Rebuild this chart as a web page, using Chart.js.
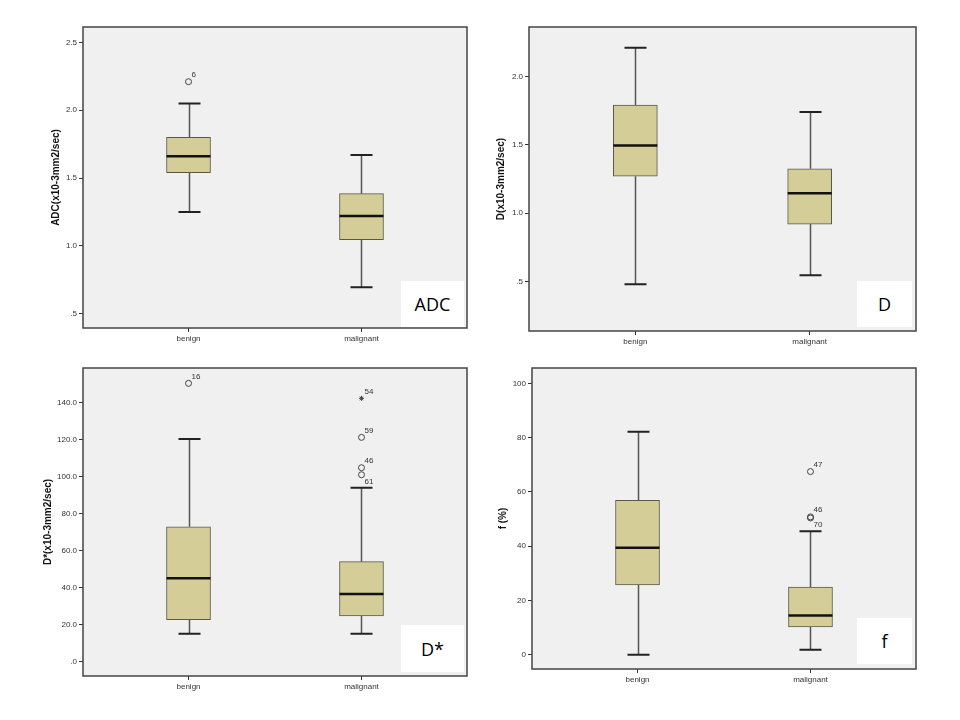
<!DOCTYPE html>
<html><head><meta charset="utf-8">
<script src="https://cdn.jsdelivr.net/npm/chart.js@4.4.1/dist/chart.umd.min.js"></script>
<style>
html,body{margin:0;padding:0;background:#fff;width:960px;height:720px;overflow:hidden;}
canvas{position:absolute;}
.tag{position:absolute;background:#fff;font-family:'Open Sans','Noto Sans',sans-serif;font-size:18px;color:#000;display:flex;align-items:center;justify-content:center;}
</style></head><body>
<canvas id="c1" width="429" height="338" style="left:48px;top:15px;width:429px;height:338px"></canvas>
<canvas id="c2" width="433" height="341" style="left:493px;top:15px;width:433px;height:341px"></canvas>
<canvas id="c3" width="437" height="345" style="left:40px;top:356px;width:437px;height:345px"></canvas>
<canvas id="c4" width="431" height="338" style="left:495px;top:356px;width:431px;height:338px"></canvas>
<div class="tag" style="left:401px;top:281px;width:63px;height:46px">ADC</div>
<div class="tag" style="left:857px;top:281px;width:55px;height:46px">D</div>
<div class="tag" style="left:401px;top:625px;width:63px;height:47px">D*</div>
<div class="tag" style="left:857px;top:618px;width:55px;height:46px">f</div>
<script>
// ---------- data ----------
const categories = ['benign', 'malignant'];

// ADC
const adcLow    = [1.25, 0.695];
const adcQ1     = [1.54, 1.045];
const adcMedian = [1.66, 1.22];
const adcQ3     = [1.80, 1.385];
const adcHigh   = [2.05, 1.67];
const adcOutlierGroup = [0];
const adcOutlierValue = [2.21];
const adcOutlierCase  = ['6'];
const adcTicks      = [0.5, 1.0, 1.5, 2.0, 2.5];
const adcTickLabels = ['.5', '1.0', '1.5', '2.0', '2.5'];

// D
const dLow    = [0.48, 0.545];
const dQ1     = [1.27, 0.92];
const dMedian = [1.495, 1.145];
const dQ3     = [1.79, 1.325];
const dHigh   = [2.21, 1.74];
const dOutlierGroup = [];
const dOutlierValue = [];
const dOutlierCase  = [];
const dTicks      = [0.5, 1.0, 1.5, 2.0];
const dTickLabels = ['.5', '1.0', '1.5', '2.0'];

// D*
const dsLow    = [14.9, 14.9];
const dsQ1     = [22.5, 24.6];
const dsMedian = [44.9, 36.4];
const dsQ3     = [72.8, 53.9];
const dsHigh   = [120.2, 93.9];
const dsOutlierGroup = [0, 1, 1, 1, 1];
const dsOutlierValue = [150.3, 142.2, 121.1, 104.7, 100.9];
const dsOutlierCase  = ['16', '54', '59', '46', '61'];
const dsExtremeCases = ['54'];
const dsTicks      = [0, 20, 40, 60, 80, 100, 120, 140];
const dsTickLabels = ['.0', '20.0', '40.0', '60.0', '80.0', '100.0', '120.0', '140.0'];

// f
const fLow    = [0, 1.8];
const fQ1     = [25.7, 10.2];
const fMedian = [39.4, 14.4];
const fQ3     = [56.9, 24.9];
const fHigh   = [82.2, 45.5];
const fOutlierGroup = [1, 1, 1];
const fOutlierValue = [67.5, 50.8, 50.4];
const fOutlierCase  = ['47', '46', '70'];
const fTicks      = [0, 20, 40, 60, 80, 100];
const fTickLabels = ['0', '20', '40', '60', '80', '100'];

// label placement (style)
const labelBelowCases = ['61', '70'];

// ---------- drawing ----------
const BOX_W = 44, CAP_HALF = 11;

const boxPlugin = {
  id: 'boxplot',
  beforeDraw(chart) {
    const {ctx, chartArea: a} = chart;
    ctx.save();
    ctx.fillStyle = '#f0f0f0';
    ctx.fillRect(a.left, a.top, a.right - a.left, a.bottom - a.top);
    ctx.restore();
  },
  beforeDatasetsDraw(chart, args, o) {
    const {ctx} = chart; const x = chart.scales.x, y = chart.scales.y;
    ctx.save();
    o.low.forEach((v, i) => {
      const px = Math.round(x.getPixelForValue(i)) + 0.5;
      ctx.strokeStyle = '#555'; ctx.lineWidth = 1.5;
      ctx.beginPath();
      ctx.moveTo(px, y.getPixelForValue(o.low[i])); ctx.lineTo(px, y.getPixelForValue(o.q1[i]));
      ctx.moveTo(px, y.getPixelForValue(o.q3[i])); ctx.lineTo(px, y.getPixelForValue(o.high[i]));
      ctx.stroke();
      ctx.strokeStyle = '#222'; ctx.lineWidth = 2;
      ctx.beginPath();
      const yl = y.getPixelForValue(o.low[i]), yh = y.getPixelForValue(o.high[i]);
      ctx.moveTo(px - CAP_HALF, yl); ctx.lineTo(px + CAP_HALF, yl);
      ctx.moveTo(px - CAP_HALF, yh); ctx.lineTo(px + CAP_HALF, yh);
      ctx.stroke();
    });
    ctx.restore();
  },
  afterDatasetsDraw(chart, args, o) {
    const {ctx, chartArea: a} = chart; const x = chart.scales.x, y = chart.scales.y;
    ctx.save();
    ctx.strokeStyle = '#111'; ctx.lineWidth = 2.5;
    o.median.forEach((v, i) => {
      const px = x.getPixelForValue(i), py = y.getPixelForValue(v);
      ctx.beginPath(); ctx.moveTo(px - BOX_W / 2, py); ctx.lineTo(px + BOX_W / 2, py); ctx.stroke();
    });
    ctx.fillStyle = '#333'; ctx.font = '8px Arial, "Liberation Sans", sans-serif';
    ctx.textAlign = 'left'; ctx.textBaseline = 'middle';
    o.oGroup.forEach((g, i) => {
      const px = x.getPixelForValue(g), py = y.getPixelForValue(o.oValue[i]);
      const below = labelBelowCases.includes(o.oCase[i]);
      ctx.fillText(o.oCase[i], px + 3, below ? py + 7 : py - 7);
    });
    ctx.strokeStyle = '#444'; ctx.lineWidth = 1.5;
    ctx.strokeRect(a.left, a.top, a.right - a.left, a.bottom - a.top);
    ctx.restore();
  }
};

function makePanel(id, p) {
  const tickFont = {size: 8, family: 'Arial, "Liberation Sans", sans-serif'};
  const ext = p.extreme || [];
  new Chart(document.getElementById(id), {
    type: 'bar',
    data: {
      datasets: [
        {
          type: 'bar',
          data: categories.map((c, i) => ({x: i, y: [p.q1[i], p.q3[i]]})),
          backgroundColor: '#d4cd97', borderColor: '#5a5848', borderWidth: 1,
          borderSkipped: false, barThickness: BOX_W, order: 2
        },
        {
          type: 'scatter',
          data: p.oGroup.map((g, i) => ({x: g, y: p.oValue[i]})),
          pointStyle: p.oCase.map(c => ext.includes(c) ? 'star' : 'circle'),
          pointRadius: p.oCase.map(c => ext.includes(c) ? 2.5 : 3),
          borderColor: '#444', backgroundColor: 'rgba(0,0,0,0)', borderWidth: 1, order: 1
        }
      ]
    },
    options: {
      responsive: false, animation: false,
      layout: {padding: {top: 12, right: 10, left: 0, bottom: 0}},
      plugins: {
        legend: {display: false}, tooltip: {enabled: false},
        boxplot: {low: p.low, q1: p.q1, median: p.median, q3: p.q3, high: p.high,
                  oGroup: p.oGroup, oValue: p.oValue, oCase: p.oCase}
      },
      scales: {
        x: {
          type: 'linear', min: -0.61, max: 1.61, offset: false,
          afterBuildTicks: s => { s.ticks = categories.map((c, i) => ({value: i})); },
          ticks: {callback: (v, i) => categories[i], font: tickFont, color: '#333', padding: 2, autoSkip: false, maxRotation: 0},
          grid: {offset: false, drawOnChartArea: false, drawTicks: true, tickLength: 4, color: '#333', lineWidth: 1},
          border: {display: false},
          afterFit: s => { s.height = 25; }
        },
        y: {
          type: 'linear', min: p.ymin, max: p.ymax,
          afterBuildTicks: s => { s.ticks = p.ticks.map(v => ({value: v})); },
          ticks: {callback: (v, i) => p.tickLabels[i], font: tickFont, color: '#333', padding: 2, autoSkip: false},
          grid: {offset: false, drawOnChartArea: false, drawTicks: true, tickLength: 4, color: '#333', lineWidth: 1},
          border: {display: false},
          title: {display: true, text: p.title, color: '#111', padding: {top: 2, bottom: 0},
                  font: {size: 10, weight: 'bold', family: 'Arial, "Liberation Sans", sans-serif'}},
          afterFit: s => { s.width = p.yW; }
        }
      }
    },
    plugins: [boxPlugin]
  });
}

makePanel('c1', {low: adcLow, q1: adcQ1, median: adcMedian, q3: adcQ3, high: adcHigh,
  oGroup: adcOutlierGroup, oValue: adcOutlierValue, oCase: adcOutlierCase,
  ticks: adcTicks, tickLabels: adcTickLabels, ymin: 0.395, ymax: 2.613, yW: 35, title: 'ADC(x10-3mm2/sec)'});
makePanel('c2', {low: dLow, q1: dQ1, median: dMedian, q3: dQ3, high: dHigh,
  oGroup: dOutlierGroup, oValue: dOutlierValue, oCase: dOutlierCase,
  ticks: dTicks, tickLabels: dTickLabels, ymin: 0.138, ymax: 2.362, yW: 36, title: 'D(x10-3mm2/sec)'});
makePanel('c3', {low: dsLow, q1: dsQ1, median: dsMedian, q3: dsQ3, high: dsHigh,
  oGroup: dsOutlierGroup, oValue: dsOutlierValue, oCase: dsOutlierCase, extreme: dsExtremeCases,
  ticks: dsTicks, tickLabels: dsTickLabels, ymin: -7.9, ymax: 158.6, yW: 43, title: 'D*(x10-3mm2/sec)'});
makePanel('c4', {low: fLow, q1: fQ1, median: fMedian, q3: fQ3, high: fHigh,
  oGroup: fOutlierGroup, oValue: fOutlierValue, oCase: fOutlierCase,
  ticks: fTicks, tickLabels: fTickLabels, ymin: -5.3, ymax: 105.7, yW: 37, title: 'f (%)'});
</script>
</body></html>
